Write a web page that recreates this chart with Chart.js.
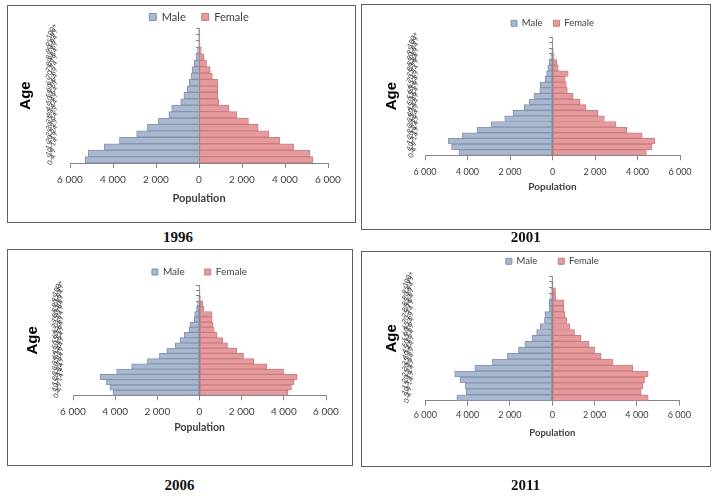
<!DOCTYPE html>
<html><head><meta charset="utf-8">
<script src="https://cdn.jsdelivr.net/npm/chart.js@4.4.1/dist/chart.umd.min.js"></script>
<style>
html,body{margin:0;padding:0;background:#fff;width:714px;height:496px;overflow:hidden;}
.panel{position:absolute;box-sizing:border-box;border:1px solid #5e5e5e;background:#fff;}
.panel canvas{position:absolute;left:0;top:0;}
.cap{position:absolute;font:bold 15px "Liberation Serif","Times New Roman",serif;color:#111;transform:translate(-50%,-50%);white-space:nowrap;}
</style></head><body>
<div id="root"></div>
<script>
// ---- data ----
const ageGroups = ['0-4','5-9','10-14','15-19','20-24','25-29','30-34','35-39','40-44','45-49','50-54','55-59','60-64','65-69','70-74','75-79','80-84','85-89','90-94','95-99','100+'];
const seriesNames = ['Male','Female'];
const years = ['1996','2001','2006','2011'];
const male1996   = [5300,5150,4400,3700,2900,2400,1900,1400,1270,850,700,550,450,370,320,220,140,90,40,20,10];
const female1996 = [5300,5150,4400,3750,3250,2750,2300,1750,1400,920,870,870,880,620,520,350,220,110,50,25,10];
const male2001   = [4400,4750,4900,4250,3550,2900,2250,1860,1330,1100,870,600,580,350,280,220,160,80,40,20,10];
const female2001 = [4420,4680,4820,4220,3500,2990,2440,2130,1570,1300,950,700,650,600,740,270,200,80,40,20,10];
const male2006   = [4090,4250,4410,4720,3930,3220,2470,1900,1550,1150,930,730,500,460,250,230,140,100,40,20,10];
const female2006 = [4200,4360,4470,4630,3990,3200,2570,2090,1770,1330,1100,830,700,630,590,600,200,160,50,25,10];
const male2011   = [4510,4060,4120,4360,4610,3660,2830,2120,1600,1300,960,740,570,370,350,150,140,80,50,30,10];
const female2011 = [4530,4200,4280,4360,4530,3800,2860,2310,2000,1730,1340,1050,830,680,600,550,550,170,150,40,20];
const xTickValues = [-6000,-4000,-2000,0,2000,4000,6000];
const xTickLabels = ['6 000','4 000','2 000','0','2 000','4 000','6 000'];
const xAxisTitle = 'Population';
const yAxisTitle = 'Age';

const maleSeries = [male1996, male2001, male2006, male2011];
const femaleSeries = [female1996, female2001, female2006, female2011];

// ---- layout / style (page pixels) ----
const panels = [
  {box:[7,5,349,218],   plot:[70,328,28,163],      legendCY:17,    legendFs:11,  legendPad:16, legendBox:7, tickFs:10, tickCY:180,   titleFs:11,  titleCY:198, ageCX:26,   yTickPad:1,  cap:[178,237]},
  {box:[361,4,350,226], plot:[425,680,37,155.3],   legendCY:23.3,  legendFs:9.5, legendPad:11, legendBox:6, tickFs:9,  tickCY:172,   titleFs:10,  titleCY:187, ageCX:392,  yTickPad:-5, cap:[525.7,237]},
  {box:[7,249,346,217], plot:[73,326,285.3,395.3], legendCY:272,   legendFs:10,  legendPad:20, legendBox:6, tickFs:10, tickCY:411.3, titleFs:10.5,titleCY:428, ageCX:32.5, yTickPad:-2, cap:[179.5,484.7]},
  {box:[361,251,350,216],plot:[425.3,679.3,277.3,400.7],legendCY:261.3,legendFs:9.5,legendPad:21,legendBox:6,tickFs:9, tickCY:414.7, titleFs:9.5, titleCY:433, ageCX:392,  yTickPad:0,  cap:[525.7,484.7]}
];
const MALE_FILL = '#a8b8d0', MALE_LINE = '#8694ad';
const FEMALE_FILL = '#e8999c', FEMALE_LINE = '#c47f83';
const AXIS = '#868686', TEXT = '#404040';
const AGE_FS = 15;

Chart.defaults.font.family = 'Lato, "Liberation Sans", sans-serif';

const root = document.getElementById('root');
panels.forEach((p, i) => {
  const [bx, by, bw, bh] = p.box;
  const div = document.createElement('div');
  div.className = 'panel';
  Object.assign(div.style, {left: bx + 'px', top: by + 'px', width: bw + 'px', height: bh + 'px'});
  const cv = document.createElement('canvas');
  const cL = bx + 1, cT = by + 1, cW = bw - 2, cH = bh - 2;
  cv.width = cW; cv.height = cH;
  cv.style.width = cW + 'px'; cv.style.height = cH + 'px';
  div.appendChild(cv);
  root.appendChild(div);

  const cap = document.createElement('div');
  cap.className = 'cap';
  cap.textContent = years[i];
  cap.style.left = p.cap[0] + 'px';
  cap.style.top = p.cap[1] + 'px';
  root.appendChild(cap);

  const [pl, pr, pt, pb] = p.plot;
  const yWidth = pl - cL;
  const padRight = cL + cW - pr;
  const padTop = p.legendCY - cT - p.legendPad - p.legendFs / 2;
  const legendMaxH = pt - cT - padTop;
  const xTickPad = p.tickCY - pb - 5 - 0.6 * p.tickFs;
  const xH = p.titleCY - pb + 0.6 * p.titleFs;
  const padBottom = cT + cH - pb - xH;
  const ageTitlePad = p.ageCX - cL - 0.6 * AGE_FS;

  new Chart(cv, {
    type: 'bar',
    data: {
      labels: ageGroups,
      datasets: [
        {label: seriesNames[0], data: maleSeries[i].map(v => -v), xAxisID: 'x', yAxisID: 'y',
         backgroundColor: MALE_FILL, borderColor: MALE_LINE, borderWidth: 1, borderSkipped: false,
         barPercentage: 1, categoryPercentage: 1},
        {label: seriesNames[1], data: femaleSeries[i], xAxisID: 'x', yAxisID: 'y',
         backgroundColor: FEMALE_FILL, borderColor: FEMALE_LINE, borderWidth: 1, borderSkipped: false,
         barPercentage: 1, categoryPercentage: 1}
      ]
    },
    options: {
      indexAxis: 'y',
      responsive: false,
      animation: false,
      devicePixelRatio: 1,
      layout: {padding: {left: 0, right: padRight, top: padTop, bottom: padBottom}},
      plugins: {
        legend: {
          position: 'top', fullSize: false, maxHeight: legendMaxH,
          labels: {boxWidth: p.legendBox, boxHeight: p.legendBox, padding: p.legendPad, color: TEXT,
                   font: {size: p.legendFs}}
        },
        tooltip: {enabled: false}
      },
      scales: {
        x: {
          type: 'linear', min: -6000, max: 6000, stacked: true,
          afterBuildTicks: s => { s.ticks = xTickValues.map(v => ({value: v})); },
          ticks: {callback: (v, idx) => xTickLabels[idx], padding: xTickPad, color: TEXT,
                  font: {size: p.tickFs}, autoSkip: false, maxRotation: 0, minRotation: 0},
          grid: {display: true, drawOnChartArea: false, drawTicks: true, tickLength: 5, color: AXIS},
          border: {display: true, color: AXIS},
          title: {display: true, text: xAxisTitle, color: TEXT, padding: 0,
                  font: {size: p.titleFs, weight: 'bold'}},
          afterFit: s => { s.height = xH; }
        },
        y: {
          type: 'category', stacked: true, reverse: true, offset: true,
          grid: {display: false}, border: {display: false},
          ticks: {autoSkip: false, minRotation: 65, maxRotation: 65, crossAlign: 'center',
                  padding: p.yTickPad, color: TEXT, font: {size: 7}},
          title: {display: true, text: yAxisTitle, color: '#000', padding: {top: ageTitlePad, bottom: 0},
                  font: {family: '"Liberation Sans", Arial, sans-serif', size: AGE_FS, weight: 'bold'}},
          afterFit: s => { s.width = yWidth; }
        },
        yc: {
          type: 'category', axis: 'y', position: {x: 0}, reverse: true, offset: true, z: 1,
          grid: {display: true, drawOnChartArea: false, drawTicks: true, tickLength: 3, color: AXIS, offset: true},
          border: {display: true, color: AXIS},
          ticks: {display: false}
        }
      }
    }
  });
});
</script>
</body></html>
